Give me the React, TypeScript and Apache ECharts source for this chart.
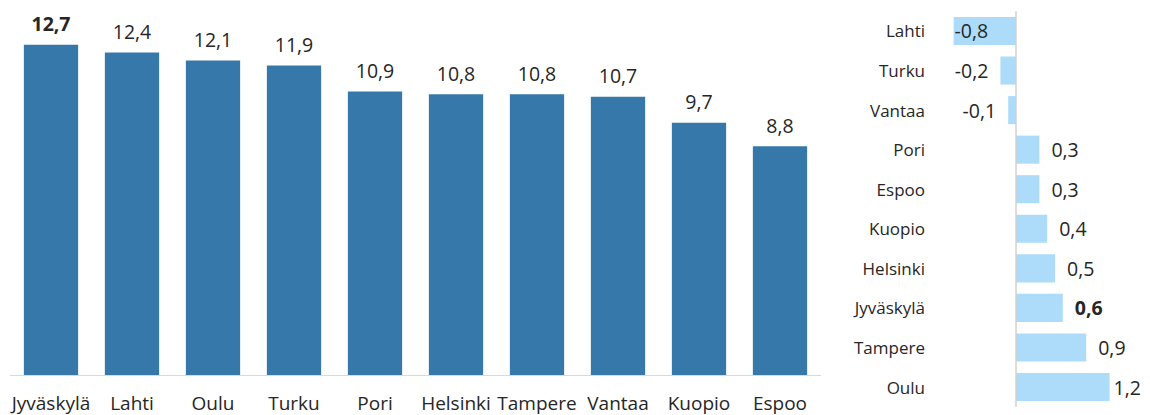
import React, { useEffect, useRef } from "react";
import * as echarts from "echarts";

const cities = ["Jyväskylä", "Lahti", "Oulu", "Turku", "Pori", "Helsinki", "Tampere", "Vantaa", "Kuopio", "Espoo"];
const levels = [12.7, 12.4, 12.1, 11.9, 10.9, 10.8, 10.8, 10.7, 9.7, 8.8];
const changeCities = ["Lahti", "Turku", "Vantaa", "Pori", "Espoo", "Kuopio", "Helsinki", "Jyväskylä", "Tampere", "Oulu"];
const changes = [-0.8, -0.2, -0.1, 0.3, 0.3, 0.4, 0.5, 0.6, 0.9, 1.2];
const highlight = "Jyväskylä";

const FONT = "'Open Sans', 'Noto Sans', sans-serif";
const TEXT = "#262626";
const fmt = (v: number) => v.toFixed(1).replace(".", ",");

export default function App() {
  const ref = useRef<HTMLDivElement>(null);
  useEffect(() => {
    if (!ref.current) return;
    const chart = echarts.init(ref.current, null, { renderer: "svg" });
    const leftData = levels.map((v, i) => ({
      value: v,
      label: { fontWeight: cities[i] === highlight ? "bold" : "normal" },
    }));
    const rightData = changes.map((v, i) => {
      const last = i === changes.length - 1;
      const inside = v <= -0.5;
      return {
        value: v,
        label: {
          fontWeight: changeCities[i] === highlight ? "bold" : "normal",
          position: v < 0 ? (inside ? "insideLeft" : "left") : "right",
          distance: inside ? 1 : last ? 4 : 12,
        },
      };
    });
    chart.setOption({
      animation: false,
      textStyle: { fontFamily: FONT, color: TEXT },
      grid: [
        { left: 10.5, width: 810, top: 11, height: 364 },
        { left: 938, width: 195, top: 11.2, height: 395.6 },
      ],
      xAxis: [
        {
          gridIndex: 0,
          type: "category",
          data: cities,
          axisLine: { lineStyle: { color: "#d9d9d9", width: 1 } },
          axisTick: { show: false },
          axisLabel: { fontSize: 19, color: TEXT, fontFamily: FONT, margin: 18, interval: 0 },
        },
        {
          gridIndex: 1,
          type: "value",
          min: -1,
          max: 1.5,
          show: false,
          splitLine: { show: false },
        },
      ],
      yAxis: [
        {
          gridIndex: 0,
          type: "value",
          min: 0,
          max: 14,
          show: false,
          splitLine: { show: false },
        },
        {
          gridIndex: 1,
          type: "category",
          inverse: true,
          data: changeCities,
          axisLine: { show: false, onZero: false },
          axisTick: { show: false },
          axisLabel: { fontSize: 17, color: TEXT, fontFamily: FONT, margin: 13 },
        },
      ],
      series: [
        {
          type: "bar",
          xAxisIndex: 0,
          yAxisIndex: 0,
          data: leftData,
          barCategoryGap: "33%",
          itemStyle: { color: "#3578a9" },
          label: {
            show: true,
            position: "top",
            distance: 11,
            fontSize: 19.5,
            color: TEXT,
            fontFamily: FONT,
            formatter: (p: any) => fmt(p.value),
          },
        },
        {
          type: "bar",
          xAxisIndex: 1,
          yAxisIndex: 1,
          data: rightData,
          barCategoryGap: "29%",
          itemStyle: { color: "#addcfb" },
          label: {
            show: true,
            fontSize: 19.5,
            color: TEXT,
            fontFamily: FONT,
            formatter: (p: any) => fmt(p.value),
          },
          markLine: {
            silent: true,
            symbol: "none",
            label: { show: false },
            lineStyle: { color: "#d0d0d0", type: "solid", width: 1.5 },
            data: [{ xAxis: 0 }],
          },
        },
      ],
    });
    return () => chart.dispose();
  }, []);
  return (
    <div
      ref={ref}
      style={{ position: "fixed", left: 0, top: 0, width: 1150, height: 415, background: "#fff" }}
    />
  );
}
